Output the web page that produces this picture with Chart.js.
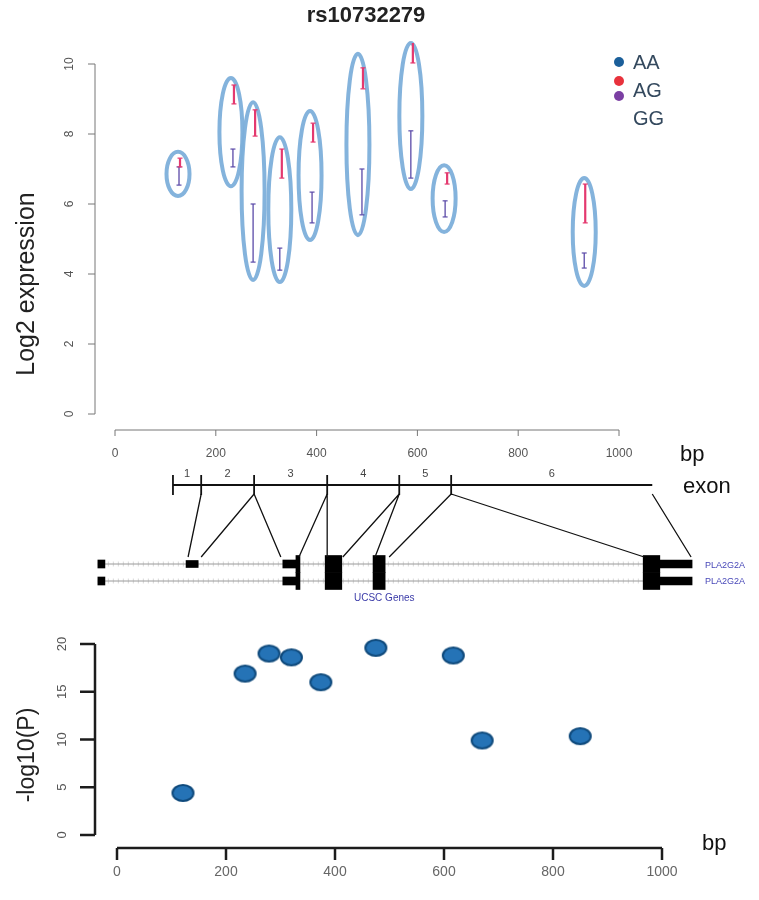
<!DOCTYPE html>
<html lang="en">
<head>
<meta charset="UTF-8">
<title>rs10732279 - PLA2G2A</title>
<script src="https://cdn.jsdelivr.net/npm/chart.js"></script>
<style>
  body { margin: 0; background: #fff; font-family: "Liberation Sans", Arial, sans-serif; }
  #page { position: relative; width: 759px; height: 900px; overflow: hidden; }
  #page canvas { position: absolute; left: 0; top: 0; pointer-events: none; }
  .txt { position: absolute; white-space: nowrap; line-height: 1; }
  .dot { position: absolute; width: 10px; height: 10px; border-radius: 50%; transform: translate(-50%, -50%); }
</style>
</head>
<body>
<div id="page">
  <canvas id="exprChart" width="759" height="900"></canvas>
  <canvas id="trackChart" width="759" height="900"></canvas>
  <canvas id="pChart" width="759" height="900"></canvas>

  <!-- titles and labels -->
  <div class="txt" style="left:366px; top:15px; transform:translate(-50%,-50%); font-weight:bold; font-size:22px; color:#222;">rs10732279</div>
  <div class="txt" style="left:25px; top:284px; transform:translate(-50%,-50%) rotate(-90deg); font-size:25px; color:#222;">Log2 expression</div>

  <!-- legend -->
  <span class="dot" style="left:619px; top:62px; background:#1b5f9a;"></span>
  <span class="dot" style="left:619px; top:81px; background:#e8323c;"></span>
  <span class="dot" style="left:619px; top:96px; background:#7b3fa3;"></span>
  <div class="txt" style="left:633px; top:62px; transform:translateY(-50%); font-size:20px; color:#34495e;">AA</div>
  <div class="txt" style="left:633px; top:90px; transform:translateY(-50%); font-size:20px; color:#34495e;">AG</div>
  <div class="txt" style="left:633px; top:118px; transform:translateY(-50%); font-size:20px; color:#34495e;">GG</div>

  <div class="txt" style="left:680px; top:454px; transform:translateY(-50%); font-size:22px; color:#111;">bp</div>
  <div class="txt" style="left:683px; top:486px; transform:translateY(-50%); font-size:22px; color:#111;">exon</div>

  <div class="txt" style="left:705px; top:565px; transform:translateY(-50%); font-size:9px; color:#4848b8;">PLA2G2A</div>
  <div class="txt" style="left:705px; top:581px; transform:translateY(-50%); font-size:9px; color:#4848b8;">PLA2G2A</div>
  <div class="txt" style="left:354px; top:598px; transform:translateY(-50%); font-size:10px; color:#3a3aa8;">UCSC Genes</div>

  <div class="txt" style="left:26px; top:755px; transform:translate(-50%,-50%) rotate(-90deg); font-size:23px; color:#222;">-log10(P)</div>
  <div class="txt" style="left:702px; top:843px; transform:translateY(-50%); font-size:22px; color:#111;">bp</div>
</div>

<script>
// ---- top panel: expression by genotype (bp along probe) ----
const agPos  = [129, 236, 278, 331, 393, 492, 591, 659, 933];
const agLow  = [7.06, 8.86, 7.94, 6.74, 7.77, 9.29, 10.03, 6.57, 5.46];
const agHigh = [7.31, 9.40, 8.69, 7.57, 8.31, 9.89, 10.60, 6.89, 6.57];
const ggPos  = [127, 234, 274, 327, 391, 490, 587, 655, 931];
const ggLow  = [6.54, 7.06, 4.34, 4.11, 5.46, 5.69, 6.74, 5.63, 4.17];
const ggHigh = [7.06, 7.57, 6.00, 4.74, 6.34, 7.00, 8.09, 6.09, 4.60];
// circled groups
const ringPos    = [125, 230, 274, 327, 387, 482, 587, 653, 931];
const ringTop    = [7.49, 9.60, 8.91, 7.91, 8.66, 10.29, 10.60, 7.11, 6.74];
const ringBottom = [6.23, 6.51, 3.83, 3.77, 4.97, 5.11, 6.43, 5.20, 3.66];
const exprXTicks = [0, 200, 400, 600, 800, 1000];
const exprYTicks = [0, 2, 4, 6, 8, 10];

// ---- exon track / UCSC gene model ----
const exonBounds = [115, 171, 276, 421, 564, 667, 1066];
const exonNames  = ['1', '2', '3', '4', '5', '6'];
const linkFrom   = [171, 276, 276, 421, 421, 564, 564, 667, 667, 1066];
const linkTo     = [145, 171, 329, 365, 421, 452, 516, 544, 1050, 1143];
const txSpan     = [-34, 1145];
const cdsStart   = [359, 417, 512, 1048];
const cdsEnd     = [367, 450, 536, 1081];
const utrStart   = [-34, 333, 1081];
const utrEnd     = [-20, 359, 1145];
const tx1OnlyStart = [141];
const tx1OnlyEnd   = [165];

// ---- bottom panel: association ----
const pBp  = [121, 235, 279, 320, 374, 475, 617, 670, 850];
const pLog = [4.4, 16.9, 19.0, 18.6, 16.0, 19.6, 18.8, 9.9, 10.35];
const pXTicks = [0, 200, 400, 600, 800, 1000];
const pYTicks = [0, 5, 10, 15, 20];

// lanes in the track chart (reversed y, top = exon line)
const EXON_Y = 0, LINK_TOP = 9, LINK_BOTTOM = 72, TX_Y = [79, 96];

// R-like detached axes drawn from the chart scales
const rAxes = {
  id: 'rAxes',
  afterDraw(chart, args, o) {
    const { ctx, chartArea: a } = chart;
    (o.axes || []).forEach(ax => {
      const s = chart.scales[ax.scale];
      const px = ax.ticks.map(v => s.getPixelForValue(v));
      ctx.save();
      ctx.strokeStyle = ax.color;
      ctx.lineWidth = ax.lineWidth;
      ctx.fillStyle = ax.labelColor;
      ctx.font = ax.font;
      ctx.textAlign = 'center';
      ctx.textBaseline = 'middle';
      ctx.beginPath();
      if (s.isHorizontal()) {
        const y0 = a.bottom + ax.offset;
        ctx.moveTo(px[0], y0); ctx.lineTo(px[px.length - 1], y0);
        px.forEach(p => { ctx.moveTo(p, y0); ctx.lineTo(p, y0 + ax.tickLength); });
        ctx.stroke();
        px.forEach((p, i) => ctx.fillText(String(ax.ticks[i]), p, y0 + ax.labelGap));
      } else {
        const x0 = a.left + ax.offset;
        ctx.moveTo(x0, px[0]); ctx.lineTo(x0, px[px.length - 1]);
        px.forEach(p => { ctx.moveTo(x0, p); ctx.lineTo(x0 - ax.tickLength, p); });
        ctx.stroke();
        px.forEach((p, i) => {
          ctx.save();
          ctx.translate(x0 - ax.labelGap, p);
          ctx.rotate(-Math.PI / 2);
          ctx.fillText(String(ax.ticks[i]), 0, 0);
          ctx.restore();
        });
      }
      ctx.restore();
    });
  }
};

const rings = {
  id: 'rings',
  beforeDatasetsDraw(chart, args, o) {
    if (!o.pos) return;
    const { ctx, scales: { x, y } } = chart;
    ctx.save();
    ctx.strokeStyle = o.color;
    ctx.lineWidth = o.width;
    o.pos.forEach((v, i) => {
      const cx = x.getPixelForValue(v);
      const t = y.getPixelForValue(o.top[i]);
      const b = y.getPixelForValue(o.bottom[i]);
      ctx.beginPath();
      ctx.ellipse(cx, (t + b) / 2, o.rx, (b - t) / 2, 0, 0, Math.PI * 2);
      ctx.stroke();
    });
    ctx.restore();
  }
};

const exonLabels = {
  id: 'exonLabels',
  afterDraw(chart, args, o) {
    if (!o.bounds) return;
    const { ctx, scales: { x, y } } = chart;
    ctx.save();
    ctx.fillStyle = '#444';
    ctx.font = '11px "Liberation Sans", Arial, sans-serif';
    ctx.textAlign = 'center';
    ctx.textBaseline = 'middle';
    o.names.forEach((n, i) => {
      const mid = (x.getPixelForValue(o.bounds[i]) + x.getPixelForValue(o.bounds[i + 1])) / 2;
      ctx.fillText(n, mid, y.getPixelForValue(EXON_Y) - 11);
    });
    ctx.restore();
  }
};

function errorSegments(xs, lo, hi) {
  const out = [];
  xs.forEach((x, i) => { out.push({ x, y: lo[i] }, { x, y: hi[i] }, { x, y: null }); });
  return out;
}

const baseOpts = {
  responsive: false,
  animation: false,
  events: [],
  plugins: { legend: { display: false }, tooltip: { enabled: false } }
};

// top panel
new Chart(document.getElementById('exprChart'), {
  type: 'line',
  data: {
    datasets: [
      { label: 'AG', data: errorSegments(agPos, agLow, agHigh), borderColor: '#e4396f', borderWidth: 2.2,
        pointStyle: 'line', pointRadius: 2.5, pointBorderWidth: 1.2, pointBorderColor: '#e4396f', spanGaps: false, clip: false },
      { label: 'GG', data: errorSegments(ggPos, ggLow, ggHigh), borderColor: '#5b4aa8', borderWidth: 1.3,
        pointStyle: 'line', pointRadius: 2.5, pointBorderWidth: 1.2, pointBorderColor: '#5b4aa8', spanGaps: false, clip: false }
    ]
  },
  options: {
    ...baseOpts,
    layout: { padding: { left: 115, right: 140, top: 64, bottom: 486 } },
    scales: {
      x: { type: 'linear', min: 0, max: 1000, display: false },
      y: { type: 'linear', min: 0, max: 10, display: false }
    },
    plugins: {
      ...baseOpts.plugins,
      rings: { pos: ringPos, top: ringTop, bottom: ringBottom, rx: 11.5, color: 'rgba(125,175,218,0.95)', width: 4 },
      rAxes: { axes: [
        { scale: 'x', ticks: exprXTicks, offset: 16, tickLength: 6, labelGap: 24, color: '#777', lineWidth: 1,
          labelColor: '#555', font: '12px "Liberation Sans", Arial, sans-serif' },
        { scale: 'y', ticks: exprYTicks, offset: -20, tickLength: 7, labelGap: 25, color: '#777', lineWidth: 1,
          labelColor: '#555', font: '12px "Liberation Sans", Arial, sans-serif' }
      ] }
    }
  },
  plugins: [rAxes, rings]
});

// exon track + gene model
const rowLine = [];
TX_Y.forEach(r => rowLine.push({ x: txSpan[0], y: r }, { x: txSpan[1], y: r }, { x: txSpan[1], y: null }));
const blocks = (starts, ends, rows) => {
  const out = [];
  rows.forEach(r => starts.forEach((s, i) => out.push({ x: [s, ends[i]], y: r })));
  return out;
};
const links = [];
linkFrom.forEach((f, i) => links.push({ x: f, y: LINK_TOP }, { x: linkTo[i], y: LINK_BOTTOM }, { x: f, y: null }));

new Chart(document.getElementById('trackChart'), {
  type: 'line',
  data: {
    datasets: [
      { order: 1, data: exonBounds.map(b => ({ x: b, y: EXON_Y })), borderColor: '#111', borderWidth: 2,
        pointStyle: 'line', pointRotation: 90, pointRadius: 10, pointBorderWidth: 1.8, pointBorderColor: '#111', clip: false },
      { order: 2, data: links, borderColor: '#111', borderWidth: 1.3, pointRadius: 0, spanGaps: false, clip: false },
      { order: 3, type: 'bar', indexAxis: 'y', grouped: false, barThickness: 17, backgroundColor: '#000',
        data: blocks(cdsStart, cdsEnd, TX_Y), clip: false },
      { order: 3, type: 'bar', indexAxis: 'y', grouped: false, barThickness: 8, backgroundColor: '#000',
        data: blocks(utrStart, utrEnd, TX_Y), clip: false },
      { order: 3, type: 'bar', indexAxis: 'y', grouped: false, barThickness: 7, backgroundColor: '#000',
        data: blocks(tx1OnlyStart, tx1OnlyEnd, [TX_Y[0]]), clip: false },
      { order: 8, data: rowLine, borderColor: '#9a9a9a', borderWidth: 1, pointRadius: 0, spanGaps: false, clip: false },
      { order: 9, data: rowLine, borderColor: 'rgba(170,170,170,0.45)', borderWidth: 5, borderDash: [1, 4], pointRadius: 0, spanGaps: false, clip: false }
    ]
  },
  options: {
    ...baseOpts,
    layout: { padding: { left: 115, right: 140, top: 485, bottom: 315 } },
    scales: {
      x: { type: 'linear', min: 0, max: 1000, display: false, offset: false, grid: { offset: false } },
      y: { type: 'linear', min: 0, max: 100, reverse: true, display: false, offset: false, grid: { offset: false } }
    },
    plugins: { ...baseOpts.plugins, exonLabels: { bounds: exonBounds, names: exonNames } }
  },
  plugins: [exonLabels]
});

// bottom panel
function ellipseSprite(w, h) {
  const c = document.createElement('canvas');
  c.width = w + 4; c.height = h + 4;
  const g = c.getContext('2d');
  g.beginPath();
  g.ellipse(c.width / 2, c.height / 2, w / 2, h / 2, 0, 0, Math.PI * 2);
  g.fillStyle = '#2573b6';
  g.fill();
  g.lineWidth = 2;
  g.strokeStyle = '#0f4a7c';
  g.stroke();
  return c;
}

new Chart(document.getElementById('pChart'), {
  type: 'scatter',
  data: {
    datasets: [{ data: pBp.map((x, i) => ({ x, y: pLog[i] })), pointStyle: ellipseSprite(21, 16), pointRadius: 10, clip: false }]
  },
  options: {
    ...baseOpts,
    layout: { padding: { left: 117, right: 97, top: 644, bottom: 65 } },
    scales: {
      x: { type: 'linear', min: 0, max: 1000, display: false },
      y: { type: 'linear', min: 0, max: 20, display: false }
    },
    plugins: {
      ...baseOpts.plugins,
      rAxes: { axes: [
        { scale: 'x', ticks: pXTicks, offset: 13, tickLength: 12, labelGap: 24, color: '#1c1c1c', lineWidth: 2.5,
          labelColor: '#666', font: '14px "Liberation Sans", Arial, sans-serif' },
        { scale: 'y', ticks: pYTicks, offset: -22, tickLength: 15, labelGap: 33, color: '#1c1c1c', lineWidth: 2.5,
          labelColor: '#555', font: '13px "Liberation Sans", Arial, sans-serif' }
      ] }
    }
  },
  plugins: [rAxes]
});
</script>
</body>
</html>
